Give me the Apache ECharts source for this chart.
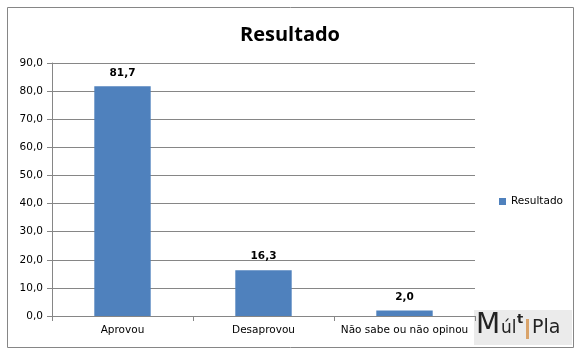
<!DOCTYPE html>
<html><head><meta charset="utf-8">
<script src="https://cdn.jsdelivr.net/npm/echarts@6/dist/echarts.min.js"></script>
<style>html,body{margin:0;padding:0;background:#fff}#c{width:580px;height:357px}</style>
</head><body><div id="c"></div>
<script>
var categories = ['Aprovou', 'Desaprovou', 'Não sabe ou não opinou'];
var values = [81.7, 16.3, 2.0];
var seriesName = 'Resultado';
var yMin = 0, yMax = 90, yStep = 10;

var chart = echarts.init(document.getElementById('c'));
var font = 'DejaVu Sans';
chart.setOption({
  animation: false,
  backgroundColor: '#fff',
  title: { text: 'Resultado', left: 'center', top: 20,
    textStyle: { fontFamily: 'Open Sans', fontWeight: 'bold', fontSize: 20, color: '#000' } },
  legend: { data: [seriesName], left: 494, top: 191, icon: 'rect', itemWidth: 7, itemHeight: 7, itemGap: 4,
    textStyle: { fontFamily: font, fontSize: 10.5, color: '#000' } },
  grid: { left: 52, right: 105, top: 63, bottom: 41 },
  xAxis: { type: 'category', data: categories,
    axisLine: { lineStyle: { color: '#868686' } },
    axisTick: { show: true, length: 5, lineStyle: { color: '#868686' } },
    axisLabel: { interval: 0, fontFamily: font, fontSize: 10.5, color: '#000', margin: 9 } },
  yAxis: { type: 'value', min: yMin, max: yMax, interval: yStep,
    axisLine: { show: true, lineStyle: { color: '#868686' } },
    axisTick: { show: true, length: 5, lineStyle: { color: '#868686' } },
    splitLine: { lineStyle: { color: '#868686' } },
    axisLabel: { fontFamily: font, fontSize: 10.5, color: '#000', margin: 9,
      formatter: function (v) { return v.toFixed(1).replace('.', ','); } } },
  series: [{ name: seriesName, type: 'bar', data: values, barWidth: '40%',
    itemStyle: { color: '#4f81bd' },
    label: { show: true, position: 'top', distance: 8, fontFamily: font, fontWeight: 'bold', fontSize: 10.5, color: '#000',
      formatter: function (p) { return p.value.toFixed(1).replace('.', ','); } } }],
  graphic: [
    { type: 'rect', shape: { x: 7.5, y: 7.5, width: 566, height: 340 }, style: { fill: 'none', stroke: '#868686', lineWidth: 1 }, z: -1 },
    { type: 'rect', shape: { x: 474, y: 310, width: 98, height: 35 }, style: { fill: '#ebebeb' } },
    { type: 'text', left: 476, top: 312, style: { text: 'M', font: '28px "DejaVu Sans"', fill: '#222' } },
    { type: 'text', left: 501, top: 320, style: { text: 'úl', font: '17px "DejaVu Sans"', fill: '#222' } },
    { type: 'text', left: 517, top: 313, style: { text: 't', font: 'bold 13px "DejaVu Sans"', fill: '#222' } },
    { type: 'rect', shape: { x: 526, y: 319, width: 3, height: 20 }, style: { fill: '#d9a36a' } },
    { type: 'text', left: 532, top: 319, style: { text: 'Pla', font: '19px "DejaVu Sans"', fill: '#222' } }
  ]
});
</script></body></html>
